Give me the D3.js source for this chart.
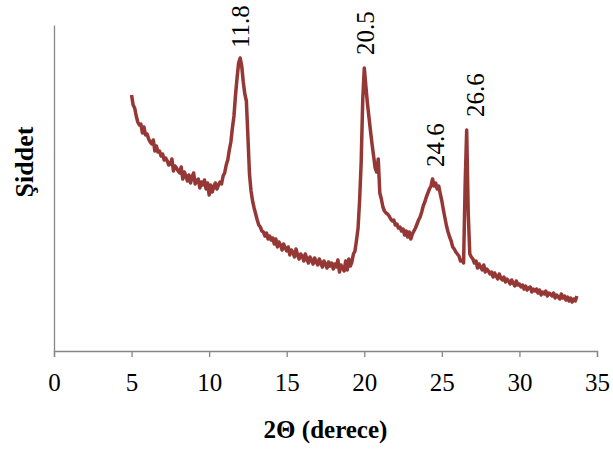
<!DOCTYPE html>
<html>
<head>
<meta charset="utf-8">
<script src="https://cdn.jsdelivr.net/npm/d3@7"></script>
<style>
  body { margin: 0; background: #fff; }
  text { font-family: "Liberation Serif", "Times New Roman", serif; }
</style>
</head>
<body>
<div id="chart"></div>
<script>
// XRD scan: 2-theta from 5.0 deg in 0.1 deg steps
const angleStart = 5.0;
const angleStep = 0.1;
const intensity = [
  256, 246, 243, 235, 229, 226, 227, 218, 224, 216,   // 5
  217, 212, 209, 207, 211, 200, 205, 199, 200, 195,   // 6
  197, 191, 193, 190, 186, 187, 192, 180, 185, 183,   // 7
  180, 178, 184, 172, 179, 175, 170, 176, 168, 174,   // 8
  178, 167, 170, 172, 163, 169, 166, 171, 162, 168,   // 9
  156, 166, 159, 164, 168, 162, 166, 169, 167, 175,   // 10
  178, 186, 191, 201, 209, 223, 235, 256, 273, 288,   // 11
  293, 285, 269, 257, 250, 214, 177, 160, 150, 143,   // 12
  137, 131, 126, 124, 120, 119, 115, 118, 112, 115,   // 13
  111, 113, 107, 112, 104, 109, 106, 101, 107, 103,   // 14
  100, 104, 96, 101, 99, 94, 102, 96, 92, 97,         // 15
  95, 90, 97, 92, 88, 94, 91, 87, 93, 89,             // 16
  86, 92, 88, 84, 90, 87, 83, 89, 85, 88,             // 17
  82, 87, 84, 91, 79, 86, 83, 80, 90, 81,             // 18
  92, 85, 89, 97, 100, 111, 123, 151, 189, 251,       // 19
  283, 265, 248, 234, 220, 207, 195, 183, 179, 192,   // 20
  158, 152, 144, 140, 138, 137, 135, 132, 130, 131,   // 21
  126, 127, 123, 124, 120, 122, 116, 120, 114, 119,   // 22
  112, 117, 120, 123, 127, 131, 134, 139, 145, 149,   // 23
  154, 158, 162, 165, 172, 165, 168, 162, 165, 157,   // 24
  150, 141, 133, 125, 119, 114, 110, 104, 102, 99,    // 25
  97, 95, 90, 91, 88, 166, 221, 138, 97, 94,          // 26
  92, 88, 90, 83, 87, 84, 81, 86, 79, 82,             // 27
  80, 77, 79, 74, 78, 75, 72, 77, 73, 71,             // 28
  74, 69, 72, 70, 67, 71, 68, 65, 70, 66,             // 29
  67, 64, 66, 62, 65, 61, 63, 64, 59, 62,             // 30
  60, 62, 58, 61, 56, 59, 57, 60, 55, 58,             // 31
  57, 55, 58, 53, 56, 54, 52, 57, 53, 55,             // 32
  51, 54, 50, 53, 49, 52, 50, 55                      // 33
];

const xTicks = [0, 5, 10, 15, 20, 25, 30, 35];

// peak annotations: text, angle and height where the label sits
const peakText = ["11.8", "20.5", "24.6", "26.6"];
const peakAngle = [11.99, 20.05, 24.57, 27.14];
const peakHeight = [303, 296, 184, 234];

const width = 613;
const height = 452;
const margin = { top: 25, right: 16, bottom: 101, left: 54 };

const svg = d3.select("#chart")
  .append("svg")
  .attr("width", width)
  .attr("height", height);

const x = d3.scaleLinear()
  .domain([0, 35])
  .range([margin.left, width - margin.right]);

const y = d3.scaleLinear()
  .domain([0, 326])
  .range([height - margin.bottom, margin.top]);

const data = intensity.map((v, i) => ({ a: angleStart + i * angleStep, v: v }));

// x axis
const xAxis = svg.append("g")
  .attr("transform", `translate(0,${height - margin.bottom})`)
  .call(d3.axisBottom(x).tickValues(xTicks).tickSize(6).tickSizeOuter(6).tickPadding(16));
xAxis.select(".domain").attr("stroke", "#868686").attr("stroke-width", 1.3);
xAxis.selectAll(".tick line").attr("stroke", "#868686").attr("stroke-width", 1.3);
xAxis.selectAll(".tick text")
  .attr("fill", "#000")
  .style("font-family", "'Liberation Serif', 'Times New Roman', serif")
  .style("font-size", "25px");

// y axis, line only
const yAxis = svg.append("g")
  .attr("transform", `translate(${margin.left},0)`)
  .call(d3.axisLeft(y).tickValues([]).tickSizeOuter(0));
yAxis.select(".domain").attr("stroke", "#868686").attr("stroke-width", 1.3);

// the scan
const line = d3.line()
  .x(d => x(d.a))
  .y(d => y(d.v));

svg.append("path")
  .datum(data)
  .attr("fill", "none")
  .attr("stroke", "#953735")
  .attr("stroke-width", 3.5)
  .attr("stroke-linejoin", "round")
  .attr("d", line);

// peak labels
svg.selectAll(".peak")
  .data(peakText)
  .enter()
  .append("text")
  .attr("class", "peak")
  .attr("transform", (d, i) => `translate(${x(peakAngle[i])},${y(peakHeight[i])}) rotate(-90)`)
  .attr("dy", "0.35em")
  .attr("text-anchor", "start")
  .style("font-size", "25px")
  .text(d => d);

// axis titles
svg.append("text")
  .attr("x", (margin.left + width - margin.right) / 2)
  .attr("y", 438)
  .attr("text-anchor", "middle")
  .style("font-size", "25px")
  .style("font-weight", "bold")
  .text("2Θ (derece)");

svg.append("text")
  .attr("transform", "translate(33,162) rotate(-90)")
  .attr("text-anchor", "middle")
  .style("font-size", "26px")
  .style("font-weight", "bold")
  .text("Şiddet");
</script>
</body>
</html>
